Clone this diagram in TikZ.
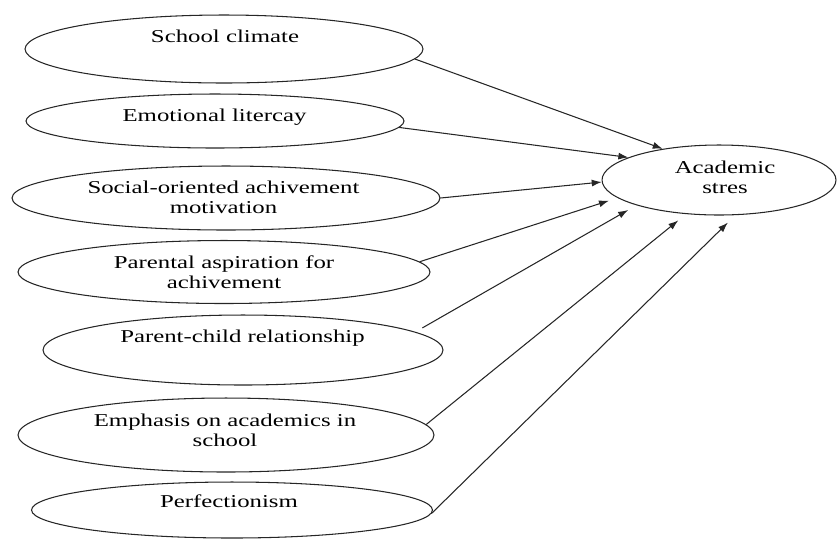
\documentclass[tikz,border=0pt]{standalone}
\usepackage{fontspec}
\setmainfont{Liberation Serif}[FakeStretch=1.37]
\usetikzlibrary{shapes.geometric,arrows.meta}

\tikzset{
  factor/.style={draw=black!85, ellipse, line width=0.6pt, inner sep=0pt},
  lbl/.style={align=center, inner sep=0pt, anchor=base, font=\fontsize{10.3}{11.5}\selectfont},
  link/.style={-{Latex[length=0.2cm,width=0.14cm]}, line width=0.6pt, draw=black!85},
}

\begin{document}
\begin{tikzpicture}[x=0.02cm,y=-0.02cm]
    \useasboundingbox (0,0) rectangle (837,539);
    % the seven predictors
    \node[factor, minimum width=7.96cm, minimum height=1.36cm] (climate) at (224,49) {};
    \node[factor, minimum width=7.56cm, minimum height=1.08cm] (literacy) at (215,121) {};
    \node[factor, minimum width=8.56cm, minimum height=1.28cm] (social) at (226,198) {};
    \node[factor, minimum width=8.24cm, minimum height=1.26cm] (aspiration) at (224,272) {};
    \node[factor, minimum width=8.0cm, minimum height=1.4cm] (relation) at (243,350) {};
    \node[factor, minimum width=8.32cm, minimum height=1.48cm] (emphasis) at (226,435) {};
    \node[factor, minimum width=8.02cm, minimum height=1.12cm] (perfect) at (232,510) {};
    % outcome
    \node[factor, minimum width=4.68cm, minimum height=1.4cm] (stress) at (719,180) {};

    % labels (base = last line)
    \node[lbl] (climate-t) at (225,42) {School climate};
    \node[lbl] (literacy-t) at (214.5,121) {Emotional litercay};
    \node[lbl] (social-t) at (223.5,213.5) {Social-oriented achivement\\motivation};
    \node[lbl] (aspiration-t) at (224,288.5) {Parental aspiration for\\achivement};
    \node[lbl] (relation-t) at (242.5,342.7) {Parent-child relationship};
    \node[lbl] (emphasis-t) at (225,446.7) {Emphasis on academics in\\school};
    \node[lbl] (perfect-t) at (229,507.3) {Perfectionism};
    \node[lbl] (stress-t) at (725,193.5) {Academic\\stres};

    \draw[link] (climate.-3) -- (stress.151);
    \draw[link] (literacy.-2) -- (stress.166);
    \draw[link] (social.0) -- (stress.181);
    \draw[link, shorten >=0.18cm] (aspiration.3) -- (stress.190);
    \draw[link, shorten <=0.16cm, shorten >=0.19cm] (relation.6) -- (stress.197);
    \draw[link, shorten >=0.2cm] (emphasis.3) -- (stress.226);
    \draw[link, shorten >=0.21cm] (perfect.-1) -- (stress.295);
\end{tikzpicture}
\end{document}
